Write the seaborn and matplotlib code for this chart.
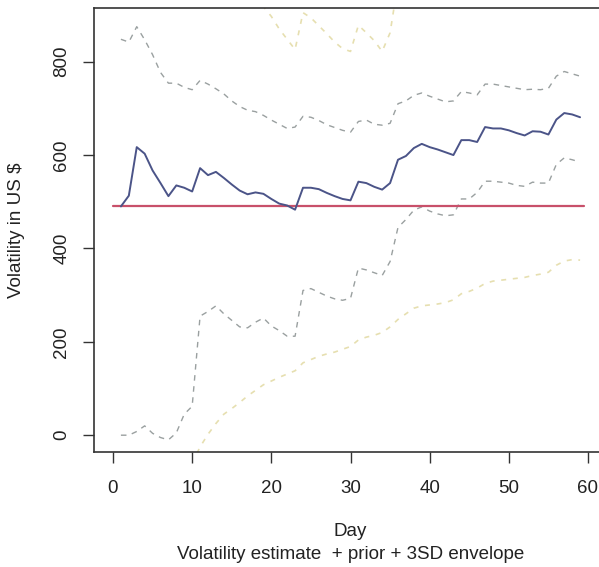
import matplotlib
matplotlib.use("Agg")
import matplotlib.pyplot as plt
import numpy as np
import pandas as pd
import seaborn as sns

# ---- data ----
days = list(range(1, 60))
estimate = [490, 513, 617, 603, 567, 540, 512, 535, 530, 522,
            572, 557, 564, 551, 537, 524, 516, 520, 517, 506,
            496, 492, 483, 530, 530, 527, 519, 512, 506, 503,
            543, 540, 532, 526, 540, 590, 598, 615, 624, 617,
            612, 606, 600, 632, 632, 628, 660, 657, 657, 653,
            647, 642, 651, 650, 644, 676, 690, 687, 681]
upper_3sd = [848, 842, 875, 847, 815, 777, 754, 754, 745, 740,
             760, 752, 742, 731, 716, 704, 696, 693, 685, 675,
             666, 657, 660, 683, 681, 674, 665, 659, 653, 649,
             672, 675, 666, 664, 668, 710, 716, 728, 733, 726,
             720, 714, 716, 736, 733, 729, 752, 752, 749, 746,
             743, 740, 741, 740, 743, 769, 779, 774, 769]
lower_3sd = [0, 0, 8, 20, 4, -5, -10, 5, 45, 62,
             255, 265, 277, 260, 246, 232, 230, 242, 251, 234,
             224, 212, 212, 310, 314, 306, 298, 292, 289, 293,
             358, 354, 348, 342, 372, 445, 462, 482, 489, 480,
             474, 470, 472, 506, 506, 520, 544, 544, 542, 540,
             535, 533, 542, 540, 540, 580, 594, 590, 585]
upper_outer = [1100, 1110, 1250, 1200, 1130, 1080, 1040, 1030, 1010, 990,
               1030, 1010, 1000, 980, 965, 950, 940, 930, 918,
               897, 870, 848, 826, 905, 894, 877, 860, 842, 828, 822,
               878, 862, 845, 822, 862,
               970, 975, 990, 995, 985, 975, 965, 935, 965, 960,
               955, 985, 980, 975, 970, 965, 960, 965, 960, 955,
               985, 995, 990, 985]
lower_outer = [-250, -240, -200, -190, -170, -160, -150, -120, -90, -60,
               -25, 2, 25, 45, 57, 70, 84, 96, 108, 116,
               124, 131, 138, 155, 162, 169, 174, 178, 184, 190,
               204, 210, 214, 220, 232, 248, 260, 272, 277, 279,
               281, 284, 290, 303, 308, 315, 325, 330, 332, 334,
               336, 338, 342, 345, 349, 364, 373, 376, 375]
prior_days = [0, 59.5]
prior_value = [490, 490]
x_ticks = [0, 10, 20, 30, 40, 50, 60]
y_ticks = [0, 200, 400, 600, 800]

df = pd.DataFrame({"Day": days, "estimate": estimate, "up3": upper_3sd,
                   "lo3": lower_3sd, "upo": upper_outer, "loo": lower_outer})
prior_df = pd.DataFrame({"Day": prior_days, "prior": prior_value})

sns.set_theme(style="white")
plt.rcParams['font.family'] = ['Liberation Sans', 'DejaVu Sans']

W, H = 599, 567
fig = plt.figure(figsize=(W / 100, H / 100), dpi=100)
ax = fig.add_axes([94 / W, 115 / H, 513 / W, 444 / H])

blue = "#4b5488"
red = "#c8506a"
gray = "#9aa0a0"
yellow = "#e6dfb0"
fs = 13.5

sns.lineplot(data=df, x="Day", y="upo", ax=ax, color=yellow, lw=1.2,
             linestyle=(0, (3, 4)), estimator=None)
sns.lineplot(data=df, x="Day", y="loo", ax=ax, color=yellow, lw=1.2,
             linestyle=(0, (3, 4)), estimator=None)
sns.lineplot(data=df, x="Day", y="up3", ax=ax, color=gray, lw=1.0,
             linestyle=(0, (4, 4)), estimator=None)
sns.lineplot(data=df, x="Day", y="lo3", ax=ax, color=gray, lw=1.0,
             linestyle=(0, (4, 4)), estimator=None)
sns.lineplot(data=prior_df, x="Day", y="prior", ax=ax, color=red, lw=1.6,
             estimator=None)
sns.lineplot(data=df, x="Day", y="estimate", ax=ax, color=blue, lw=1.4,
             estimator=None)

ax.set_xlim(-2.4, 62.4)
ax.set_ylim(-36, 915)
ax.set_xticks(x_ticks)
ax.set_yticks(y_ticks)
ax.set_xticklabels([str(t) for t in x_ticks])
ax.set_yticklabels([str(t) for t in y_ticks], rotation=90, va="center")

for s in ["left", "bottom", "top", "right"]:
    ax.spines[s].set_color("#333333")
    ax.spines[s].set_linewidth(1.2)
ax.tick_params(axis="both", which="both", direction="out", length=8,
               width=1.0, color="#333333", labelsize=fs, labelcolor="#222222",
               left=True, bottom=True, top=False, right=False)
ax.tick_params(axis="x", pad=12)
ax.tick_params(axis="y", pad=9)

ax.set_xlabel("Day", fontsize=fs, color="#222222")
ax.xaxis.label.set_va("center")
ax.xaxis.set_label_coords(0.5, (452 - 531.7) / 444)
ax.set_ylabel("Volatility in US $", fontsize=fs, color="#222222")
ax.yaxis.label.set_va("center")
ax.yaxis.set_label_coords((17 - 94) / 513, 0.5)

fig.text(350.5 / W, 1 - 554.3 / H, "Volatility estimate  + prior + 3SD envelope",
         ha="center", va="center", fontsize=fs, color="#222222")

fig.savefig("out.png", dpi=100, facecolor="white")
